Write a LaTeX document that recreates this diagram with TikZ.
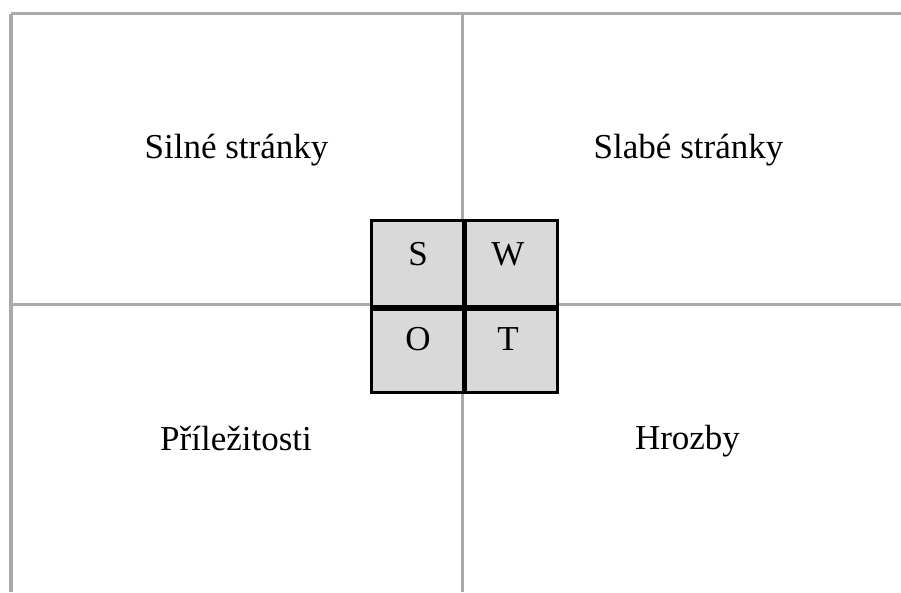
\documentclass[tikz,border=0pt]{standalone}
\usepackage{fontspec}
\setmainfont{Liberation Serif}
\definecolor{gridgray}{RGB}{170,170,170}
\definecolor{cellfill}{RGB}{217,217,217}
\begin{document}
\begin{tikzpicture}[x=1pt,y=-1pt,
  grid/.style={draw=gridgray,line width=3pt},
  cell/.style={draw=black,line width=3pt,fill=cellfill},
  lbl/.style={font=\fontsize{35}{42}\selectfont,inner sep=0pt,anchor=base},
  letter/.style={font=\fontsize{35}{42}\selectfont,inner sep=0pt,anchor=base}]
\useasboundingbox (0,0) rectangle (901,592);
\fill[white] (0,0) rectangle (901,592);
% grid lines
\coordinate (tl) at (10.5,13.5);
\coordinate (tr) at (901,13.5);
\coordinate (bl) at (10.5,592);
\coordinate (mt) at (462,13.5);
\coordinate (mb) at (462,592);
\coordinate (ml) at (10.5,304);
\coordinate (mr) at (901,304);
\draw[grid,line width=4pt] (bl) -- (tl);
\draw[grid] (tl) -- (tr);
\draw[grid] (mt) -- (mb);
\draw[grid] (ml) -- (mr);
% SWOT cells
\node[cell,minimum width=92pt,minimum height=86pt,anchor=north west] (s) at (370,219) {};
\node[cell,minimum width=93pt,minimum height=86pt,anchor=north west] (w) at (463,219) {};
\node[cell,minimum width=92pt,minimum height=86pt,anchor=north west] (o) at (370,305) {};
\node[cell,minimum width=93pt,minimum height=86pt,anchor=north west] (t) at (463,305) {};
\draw[line width=5pt] (s.south west) -- (w.south east);
\draw[line width=4.5pt] (s.north east) -- (o.south east);
\node[letter] (ls) at (418,265) {S};
\node[letter] (lw) at (508,265) {W};
\node[letter] (lo) at (418,350) {O};
\node[letter] (lt) at (508,350) {T};
% quadrant labels
\node[lbl] (q1) at (236.5,158) {Silné stránky};
\node[lbl] (q2) at (688.5,158) {Slabé stránky};
\node[lbl] (q3) at (236,450) {Příležitosti};
\node[lbl] (q4) at (687.5,449) {Hrozby};
\end{tikzpicture}
\end{document}
